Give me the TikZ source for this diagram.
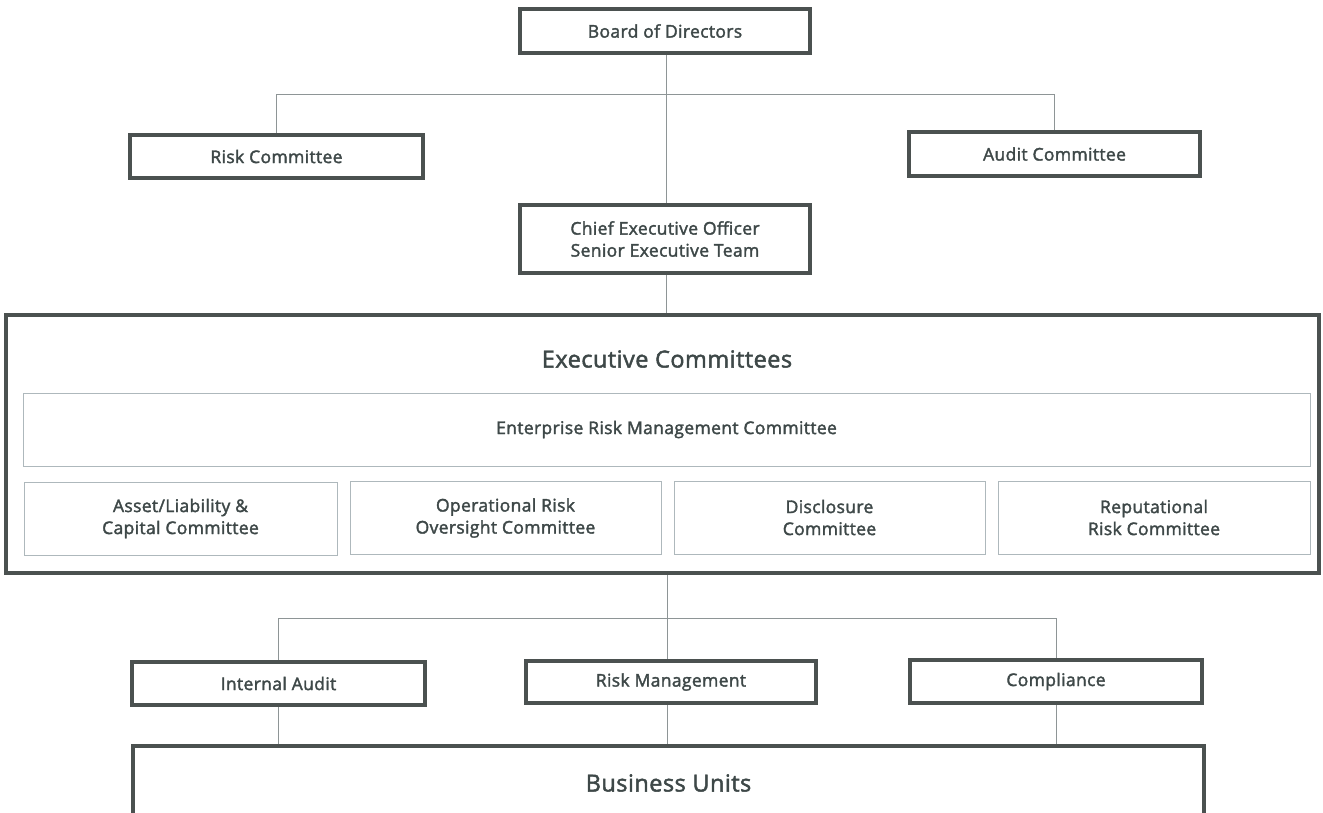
\documentclass[tikz,border=0pt]{standalone}
\usepackage{fontspec}
\setmainfont{Open Sans}[FakeBold=2,LetterSpace=2]
\definecolor{frame}{HTML}{4B5150}
\definecolor{thin}{HTML}{AEB8BC}
\definecolor{conn}{HTML}{8E9596}
\definecolor{txt}{HTML}{3E4848}
\begin{document}
\begin{tikzpicture}[x=1pt,y=-1pt,
  thick box/.style={draw=frame,line width=4.5pt,fill=white,rectangle,inner sep=0pt,
    text=txt,font=\fontsize{17.5}{22}\selectfont,align=center},
  thin box/.style={draw=thin,line width=0.9pt,rectangle,inner sep=0pt,
    text=txt,font=\fontsize{17.5}{22}\selectfont,align=center},
  big text/.style={font=\fontsize{23.5}{26}\selectfont},
  link/.style={draw=conn,line width=0.7pt}]
\clip (0,0) rectangle (1323,812);
\fill[white] (0,0) rectangle (1323,812);
\coordinate (bus) at (666,94);
\coordinate (bus2) at (667,618);
% boxes
\node[thick box,minimum width=290pt,minimum height=44pt] (board) at (665,31) {Board of Directors};
\node[thick box,minimum width=293pt,minimum height=43pt] (risk) at (276.5,156.5) {Risk Committee};
\node[thick box,minimum width=291pt,minimum height=44pt] (audit) at (1054.5,154) {Audit Committee};
\node[thick box,minimum width=290pt,minimum height=68pt] (ceo) at (665,239) {Chief Executive Officer\\Senior Executive Team};
\node[draw=frame,line width=4pt,rectangle,inner sep=0pt,minimum width=1313pt,minimum height=258pt] (exec) at (662.5,444) {};
\node[text=txt,big text] (exect) at (667,359) {Executive Committees};
\node[thin box,minimum width=1287pt,minimum height=73pt] (erm) at (666.5,429.5) {Enterprise Risk Management Committee};
\node[thin box,minimum width=313pt,minimum height=73pt] (alc) at (180.5,518.5) {Asset/Liability \&\\Capital Committee};
\node[thin box,minimum width=311pt,minimum height=73pt] (oro) at (505.5,518) {Operational Risk\\Oversight Committee};
\node[thin box,minimum width=311pt,minimum height=73pt] (disc) at (829.5,517.5) {Disclosure\\Committee};
\node[thin box,minimum width=312pt,minimum height=73pt] (rep) at (1154,517.5) {Reputational\\Risk Committee};
\node[thick box,minimum width=293pt,minimum height=43pt] (ia) at (278.5,683.5) {Internal Audit};
\node[thick box,minimum width=290pt,minimum height=42pt] (rm) at (671,682) {Risk Management};
\node[thick box,minimum width=292pt,minimum height=43pt] (comp) at (1056,681.5) {Compliance};
\node[thick box,minimum width=1071pt,minimum height=74pt,big text] (bu) at (668.5,783) {Business Units};
% connectors
\draw[link] (board.south -| bus) -- (ceo.north -| bus);
\draw[link] (ceo.south -| bus) -- (exec.north -| bus);
\draw[link] (risk.north) -- (risk.north |- bus) -- (audit.north |- bus) -- (audit.north);
\draw[link] (exec.south -| bus2) -- (rm.north -| bus2);
\draw[link] (ia.north) -- (ia.north |- bus2) -- (comp.north |- bus2) -- (comp.north);
\draw[link] (ia.south) -- (ia.south |- bu.north);
\draw[link] (rm.south -| bus2) -- (bu.north -| bus2);
\draw[link] (comp.south) -- (comp.south |- bu.north);
\end{tikzpicture}
\end{document}
